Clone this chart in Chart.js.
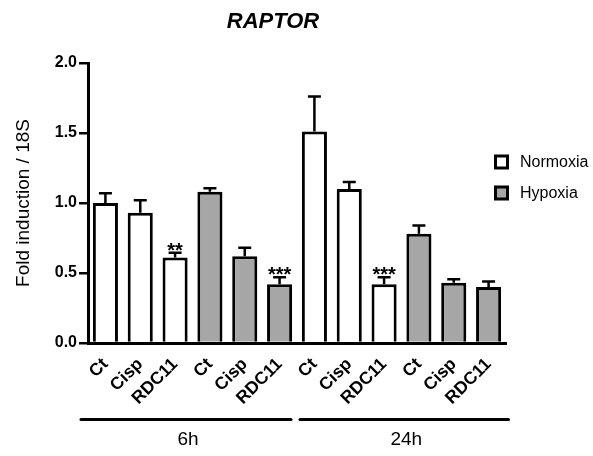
<!DOCTYPE html>
<html><head><meta charset="utf-8">
<script src="https://cdn.jsdelivr.net/npm/chart.js@4.4.0/dist/chart.umd.min.js"></script>
<style>html,body{margin:0;padding:0;background:#fff}#wrap{width:593px;height:456px;position:relative}</style>
</head><body><div id="wrap"><canvas id="c" width="593" height="456"></canvas></div>
<script>
// ---- data ----
const categories = ['Ct','Cisp','RDC11','Ct','Cisp','RDC11','Ct','Cisp','RDC11','Ct','Cisp','RDC11'];
const conditions = ['Normoxia','Normoxia','Normoxia','Hypoxia','Hypoxia','Hypoxia','Normoxia','Normoxia','Normoxia','Hypoxia','Hypoxia','Hypoxia'];
const means = [1.00, 0.93, 0.61, 1.08, 0.62, 0.42, 1.51, 1.10, 0.42, 0.78, 0.43, 0.40];
const sem   = [0.07, 0.09, 0.035, 0.025, 0.06, 0.05, 0.25, 0.05, 0.05, 0.06, 0.025, 0.04];
const stars = ['', '', '**', '', '', '***', '', '', '***', '', '', ''];
const timeGroups = ['6h','24h'];
const groupSizes = [6, 6];
const legendLabels = ['Normoxia','Hypoxia'];
const yTicks = [0, 0.5, 1.0, 1.5, 2.0];
const chartTitle = 'RAPTOR';
const yTitle = 'Fold induction / 18S';

// ---- style ----
const FONT = "'Liberation Sans', Arial, Helvetica, sans-serif";
const FILL = {Normoxia:'#ffffff', Hypoxia:'#a6a6a6'};

const extras = {
  id: 'extras',
  afterDatasetsDraw(chart) {
    const ctx = chart.ctx, xs = chart.scales.x, ys = chart.scales.y;
    ctx.save();
    ctx.strokeStyle = '#000';
    ctx.fillStyle = '#000';
    ctx.lineWidth = 2.5;
    means.forEach((m, i) => {
      const cx = xs.getPixelForValue(i);
      const base = ys.getPixelForValue(m);
      const top = ys.getPixelForValue(m + sem[i]);
      ctx.beginPath();
      ctx.moveTo(cx, base); ctx.lineTo(cx, top);
      ctx.moveTo(cx - 6.5, top); ctx.lineTo(cx + 6.5, top);
      ctx.stroke();
      if (stars[i]) {
        ctx.font = 'bold 20px ' + FONT;
        ctx.textAlign = 'center';
        ctx.textBaseline = 'alphabetic';
        ctx.fillText(stars[i], cx, top + 4);
      }
    });
    ctx.restore();
  },
  afterDraw(chart) {
    const ctx = chart.ctx, xs = chart.scales.x;
    const half = (xs.getPixelForValue(1) - xs.getPixelForValue(0)) / 2;
    ctx.save();
    // title
    ctx.fillStyle = '#000';
    ctx.font = 'italic bold 22px ' + FONT;
    ctx.textAlign = 'center';
    ctx.textBaseline = 'middle';
    ctx.fillText(chartTitle, 273, 22);
    // group lines + labels
    let start = 0;
    groupSizes.forEach((n, g) => {
      let x0 = xs.getPixelForValue(start) - half;
      let x1 = xs.getPixelForValue(start + n - 1) + half;
      x0 += (g === 0) ? -7 : 3;
      x1 += (g === groupSizes.length - 1) ? 2.5 : -6;
      ctx.strokeStyle = '#000';
      ctx.lineWidth = 3;
      ctx.lineCap = 'round';
      ctx.beginPath(); ctx.moveTo(x0, 419.5); ctx.lineTo(x1, 419.5); ctx.stroke();
      ctx.font = '19px ' + FONT;
      ctx.textAlign = 'center';
      ctx.textBaseline = 'middle';
      ctx.fillText(timeGroups[g], (x0 + x1) / 2 + 2, 440);
      start += n;
    });
    // legend
    legendLabels.forEach((lab, k) => {
      const cy = 162 + k * 31;
      ctx.lineWidth = 3;
      ctx.lineCap = 'butt';
      ctx.fillStyle = FILL[lab];
      ctx.fillRect(495.5, cy - 6, 12, 12);
      ctx.strokeStyle = '#000';
      ctx.strokeRect(495.5, cy - 6, 12, 12);
      ctx.fillStyle = '#000';
      ctx.font = '16px ' + FONT;
      ctx.textAlign = 'left';
      ctx.textBaseline = 'middle';
      ctx.fillText(lab, 520, cy + 1);
    });
    ctx.restore();
  }
};

new Chart(document.getElementById('c'), {
  type: 'bar',
  data: {
    labels: categories,
    datasets: [{
      data: means,
      backgroundColor: conditions.map(c => FILL[c]),
      borderColor: '#000',
      borderWidth: 3,
      barPercentage: 0.72,
      categoryPercentage: 1.0
    }]
  },
  options: {
    responsive: false,
    animation: false,
    devicePixelRatio: 1,
    layout: {padding: {top: 63, right: 87, bottom: 0, left: 0}},
    plugins: {legend: {display: false}, tooltip: {enabled: false}, title: {display: false}},
    scales: {
      x: {
        grid: {display: true, drawOnChartArea: false, drawTicks: false},
        border: {display: true, color: '#000', width: 3},
        ticks: {
          color: '#000', font: {family: FONT, size: 17.5, weight: 'bold'},
          minRotation: 45, maxRotation: 45, autoSkip: false, padding: 11
        },
        afterFit(s) { s.height = 113; }
      },
      y: {
        min: 0, max: 2,
        afterBuildTicks(s) { s.ticks = yTicks.map(v => ({value: v})); },
        grid: {drawOnChartArea: false, drawTicks: true, tickLength: 9, color: '#000', lineWidth: 2.5},
        border: {display: true, color: '#000', width: 3},
        ticks: {
          color: '#000', font: {family: FONT, size: 16, weight: 'bold'}, padding: 2,
          callback: v => Number(v).toFixed(1)
        },
        title: {display: true, text: yTitle, color: '#000', font: {family: FONT, size: 19}, padding: {top: 12, bottom: 0}},
        afterFit(s) { s.width = 88; }
      }
    }
  },
  plugins: [extras]
});
</script>
</body></html>
